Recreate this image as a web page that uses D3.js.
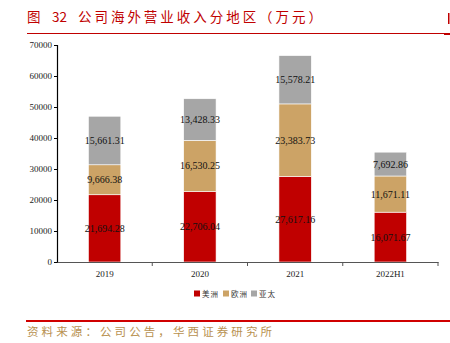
<!DOCTYPE html>
<html><head><meta charset="utf-8">
<script src="https://cdn.jsdelivr.net/npm/d3@7"></script>
<style>body{margin:0;background:#fff}svg{display:block}</style>
</head><body><svg id="c" width="450" height="343"></svg>
<script>
const categories = ["2019", "2020", "2021", "2022H1"];
const seriesNames = ["美洲", "欧洲", "亚太"];
const americas = [21694.28, 22706.04, 27617.16, 16071.67];
const europe = [9666.38, 16530.25, 23383.73, 11671.11];
const asiaPacific = [15661.31, 13428.33, 15578.21, 7692.86];
const yTicks = [0, 10000, 20000, 30000, 40000, 50000, 60000, 70000];
const colors = ["#C00000", "#CCA366", "#A6A6A6"];
const titleParts = ["图", "32", "公司海外营业收入分地区（万元）"];
const source = "资料来源：公司公告，华西证券研究所";

const svg = d3.select("#c");
const serif = "'Liberation Serif','Times New Roman',serif";
const cjk = "'Noto Sans CJK SC',sans-serif";

// header
const tx = [27, 52, 78];
titleParts.forEach((t, i) => {
  const el = svg.append("text").attr("x", tx[i]).attr("y", 22).attr("fill", "#C00000")
    .attr("font-family", cjk).attr("font-size", 13.5).text(t);
  if (i === 2) el.attr("textLength", 244).attr("lengthAdjust", "spacing");
});
svg.append("line").attr("x1", 27).attr("x2", 445).attr("y1", 33.5).attr("y2", 33.5)
  .attr("stroke", "#C00000").attr("stroke-width", 1);
svg.append("rect").attr("x", 444).attr("y", 33).attr("width", 6).attr("height", 2).attr("fill", "#C00000");
svg.append("rect").attr("x", 448).attr("y", 13).attr("width", 1.5).attr("height", 11).attr("fill", "#C00000");

const x0 = 57, x1 = 438, yBase = 262, yTop = 45;
const x = d3.scaleBand().domain(categories).range([x0, x1]).paddingInner(0.66).paddingOuter(0.33);
const y = d3.scaleLinear().domain([0, 70000]).range([yBase, yTop]);

const rows = categories.map((c, i) => ({cat: c, "美洲": americas[i], "欧洲": europe[i], "亚太": asiaPacific[i]}));
const stack = d3.stack().keys(seriesNames)(rows);

const g = svg.append("g");
stack.forEach((s, si) => {
  g.selectAll(null).data(s).enter().append("rect")
    .attr("x", d => x(d.data.cat)).attr("width", x.bandwidth())
    .attr("y", d => y(d[1])).attr("height", d => y(d[0]) - y(d[1]))
    .attr("fill", colors[si]).attr("stroke", "#fff").attr("stroke-width", 0.6);
  g.selectAll(null).data(s).enter().append("text")
    .attr("x", d => x(d.data.cat) + x.bandwidth() / 2)
    .attr("y", d => (y(d[0]) + y(d[1])) / 2 + 3.5)
    .attr("text-anchor", "middle").attr("font-family", serif).attr("font-size", 10)
    .attr("fill", "#111").text(d => d3.format(",.2f")(d[1] - d[0]));
});

// y axis
const ya = svg.append("g").attr("transform", `translate(${x0},0)`)
  .call(d3.axisLeft(y).tickValues(yTicks).tickSize(3).tickFormat(d3.format("d")));
ya.select(".domain").attr("stroke", "#000").attr("stroke-width", 1.2);
ya.selectAll(".tick line").attr("stroke", "#000");
ya.selectAll("text").attr("font-family", serif).attr("font-size", 9).attr("fill", "#222").attr("x", -5);

// x axis
const xa = svg.append("g").attr("transform", `translate(0,${yBase})`)
  .call(d3.axisBottom(x).tickSize(0).tickSizeOuter(0));
xa.select(".domain").attr("stroke", "#555").attr("stroke-width", 1.2);
xa.selectAll("text").attr("font-family", serif).attr("font-size", 9).attr("fill", "#222").attr("dy", "1.35em");
const step = x.step();
categories.forEach((c, i) => {
  const tx2 = x0 + step * (i + 1);
  xa.append("line").attr("x1", tx2).attr("x2", tx2).attr("y1", 0).attr("y2", 4).attr("stroke", "#555");
});

// legend
const legendX = [194, 223, 251];
const legend = svg.append("g");
seriesNames.forEach((n, i) => {
  legend.append("rect").attr("x", legendX[i]).attr("y", 290.5).attr("width", 6).attr("height", 6).attr("fill", colors[i]);
  legend.append("text").attr("x", legendX[i] + 8).attr("y", 297).attr("font-family", cjk)
    .attr("font-size", 7.5).attr("fill", "#333").attr("letter-spacing", 1).text(n);
});

// footer
svg.append("line").attr("x1", 26).attr("x2", 450).attr("y1", 321).attr("y2", 321)
  .attr("stroke", "#D00000").attr("stroke-width", 2);
svg.append("text").attr("x", 27).attr("y", 336).attr("fill", "#B8914F")
  .attr("font-family", cjk).attr("font-size", 11.5).attr("textLength", 245)
  .attr("lengthAdjust", "spacing").text(source);
</script></body></html>
